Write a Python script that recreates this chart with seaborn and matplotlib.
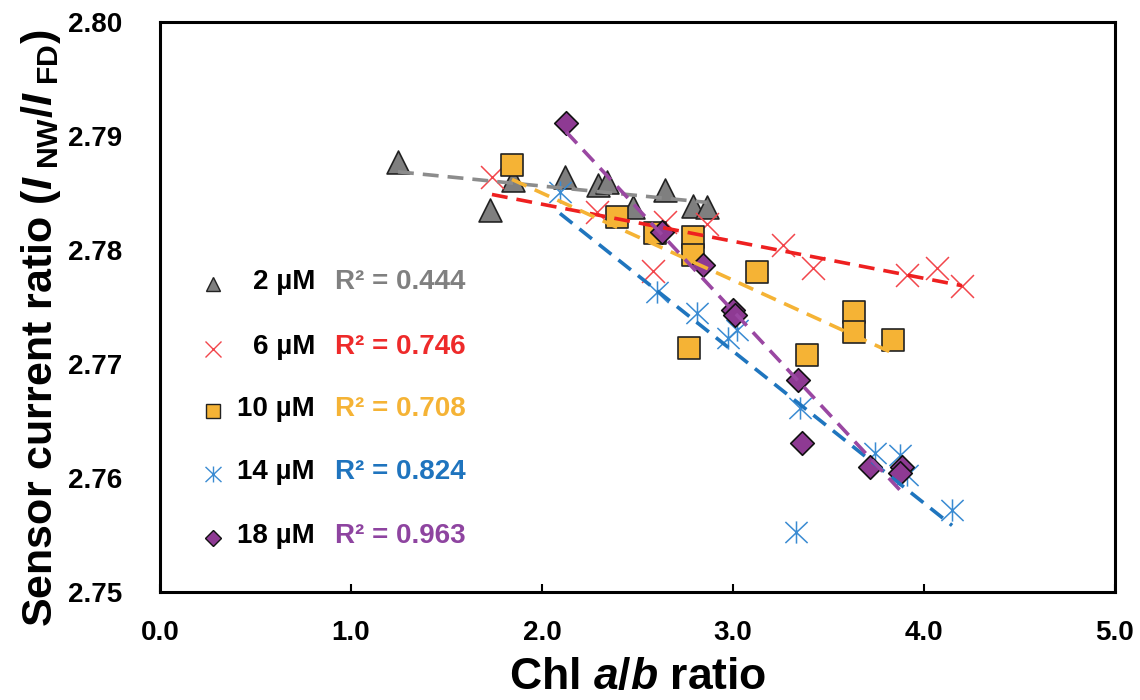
import numpy as np
import pandas as pd
import matplotlib
matplotlib.use("Agg")
import matplotlib.pyplot as plt
from matplotlib.path import Path
import seaborn as sns

# ---------------- data ----------------
conc_labels = ["2 µM", "6 µM", "10 µM", "14 µM", "18 µM"]
r2_values = ["0.444", "0.746", "0.708", "0.824", "0.963"]

x_2uM = [1.246, 1.728, 1.848, 2.120, 2.293, 2.340, 2.476, 2.644, 2.791, 2.864]
y_2uM = [2.7877, 2.7835, 2.7861, 2.7864, 2.7857, 2.7860, 2.7838, 2.7853, 2.7839, 2.7838]

x_6uM = [1.738, 2.290, 2.581, 2.644, 2.864, 3.262, 3.419, 3.911, 4.068, 4.199]
y_6uM = [2.7864, 2.7833, 2.7782, 2.7825, 2.7823, 2.7804, 2.7784, 2.7778, 2.7784, 2.7768]

x_10uM = [1.843, 2.393, 2.592, 2.791, 2.791, 3.126, 2.770, 3.634, 3.634, 3.387, 3.838]
y_10uM = [2.7875, 2.7829, 2.7815, 2.7811, 2.7796, 2.7781, 2.7714, 2.7746, 2.7728, 2.7708, 2.7721]

x_14uM = [2.094, 2.602, 2.812, 2.974, 3.021, 3.351, 3.330, 3.743, 3.874, 3.911, 4.147]
y_14uM = [2.7851, 2.7763, 2.7745, 2.7723, 2.7730, 2.7661, 2.7553, 2.7622, 2.7620, 2.7603, 2.7572]

x_18uM = [2.126, 2.628, 2.843, 3.000, 3.010, 3.340, 3.361, 3.717, 3.885, 3.874]
y_18uM = [2.7911, 2.7816, 2.7787, 2.7747, 2.7743, 2.7686, 2.7631, 2.7610, 2.7610, 2.7604]

x_ticks = [0.0, 1.0, 2.0, 3.0, 4.0, 5.0]
y_ticks = [2.75, 2.76, 2.77, 2.78, 2.79, 2.80]

# ---------------- styling ----------------
sns.set_theme(style="white")
plt.rcParams["font.family"] = ["Liberation Sans", "DejaVu Sans"]
plt.rcParams["font.weight"] = "bold"
plt.rcParams["mathtext.fontset"] = "custom"
plt.rcParams["mathtext.rm"] = "Liberation Sans:bold"
plt.rcParams["mathtext.it"] = "Liberation Sans:italic:bold"
plt.rcParams["mathtext.bf"] = "Liberation Sans:bold"

asterisk = Path(
    [(0, -1), (0, 1), (-1, -0.95), (1, 0.95), (-1, 0.95), (1, -0.95)],
    [Path.MOVETO, Path.LINETO, Path.MOVETO, Path.LINETO, Path.MOVETO, Path.LINETO],
)

series = [
    dict(x=x_2uM, y=y_2uM, marker="^", ms=16.5, face="#7F7F7F", edge="#222222",
         ew=1.2, line="#8C8C8C", text="#808080", lms=10.5),
    dict(x=x_6uM, y=y_6uM, marker="x", ms=16.5, face="#F2464C", edge=None,
         ew=1.1, line="#EE2020", text="#EE2A2A", lms=11.5),
    dict(x=x_10uM, y=y_10uM, marker="s", ms=15.5, face="#F5B335", edge="#222222",
         ew=1.2, line="#F5B335", text="#F5B335", lms=10),
    dict(x=x_14uM, y=y_14uM, marker=asterisk, ms=16, face="#3A8BD2", edge=None,
         ew=1.1, line="#1F75BE", text="#1F74BE", lms=11.5),
    dict(x=x_18uM, y=y_18uM, marker="D", ms=12, face="#8E3A93", edge="#111111",
         ew=1.2, line="#9A47A2", text="#8E44A0", lms=8.5),
]

fig = plt.figure(figsize=(11.4, 7.0), dpi=100)
ax = fig.add_axes([160 / 1140, 1 - 592 / 700, 955 / 1140, 570 / 700])

for s in series:
    df = pd.DataFrame({"x": s["x"], "y": s["y"]})
    if s["edge"] is None:
        skw = dict(color=s["face"], s=s["ms"] ** 2, linewidths=s["ew"], alpha=1)
    else:
        skw = dict(color=s["face"], edgecolors=s["edge"], s=s["ms"] ** 2,
                   linewidths=s["ew"], alpha=1)
    sns.regplot(data=df, x="x", y="y", ax=ax, ci=None, marker=s["marker"],
                scatter_kws=skw,
                line_kws=dict(color=s["line"], lw=2.6, linestyle=(0, (4.4, 2.5))))

ax.set_xlim(0, 5)
ax.set_ylim(2.75, 2.80)
ax.set_xticks(x_ticks)
ax.set_xticklabels([f"{v:.1f}" for v in x_ticks])
ax.set_yticks(y_ticks)
ax.set_yticklabels([f"{v:.2f}" for v in y_ticks])
ax.tick_params(axis="x", direction="in", length=6, width=1.5, pad=20,
               labelsize=20, bottom=True, color="black")
ax.tick_params(axis="y", length=0, pad=27, labelsize=20)
for lab in ax.get_xticklabels() + ax.get_yticklabels():
    lab.set_fontweight("bold")
    lab.set_color("black")
for sp in ax.spines.values():
    sp.set_visible(True)
    sp.set_color("black")
    sp.set_linewidth(2.2)

ax.set_xlabel(r"Chl $\mathit{a/b}$ ratio", fontsize=32, fontweight="bold",
              labelpad=8, color="black")
ax.set_ylabel(r"Sensor current ratio ($\mathit{I}_{\mathrm{\ NW}}$/$\mathit{I}_{\mathrm{\ FD}}$)",
              fontsize=31, fontweight="bold", labelpad=4, color="black")
ax.yaxis.label.set_y(0.463)

# ---------------- in-plot legend ----------------
row_y = [0.5439, 0.4298, 0.321, 0.2105, 0.0982]
for s, lab, r2, yy in zip(series, conc_labels, r2_values, row_y):
    if s["edge"] is None:
        ax.plot([0.0555], [yy - 0.004], transform=ax.transAxes, marker=s["marker"],
                ms=s["lms"], color=s["face"], mew=1.0, linestyle="none",
                clip_on=False)
    else:
        ax.plot([0.0555], [yy - 0.004], transform=ax.transAxes, marker=s["marker"],
                ms=s["lms"], markerfacecolor=s["face"], markeredgecolor=s["edge"],
                mew=1.0, linestyle="none", clip_on=False)
    ax.text(0.1623, yy, lab, transform=ax.transAxes, ha="right", va="center",
            fontsize=20, fontweight="bold", color="black")
    ax.text(0.1832, yy, f"R² = {r2}", transform=ax.transAxes, ha="left",
            va="center", fontsize=20, fontweight="bold", color=s["text"])

fig.savefig("out.png", dpi=100)
